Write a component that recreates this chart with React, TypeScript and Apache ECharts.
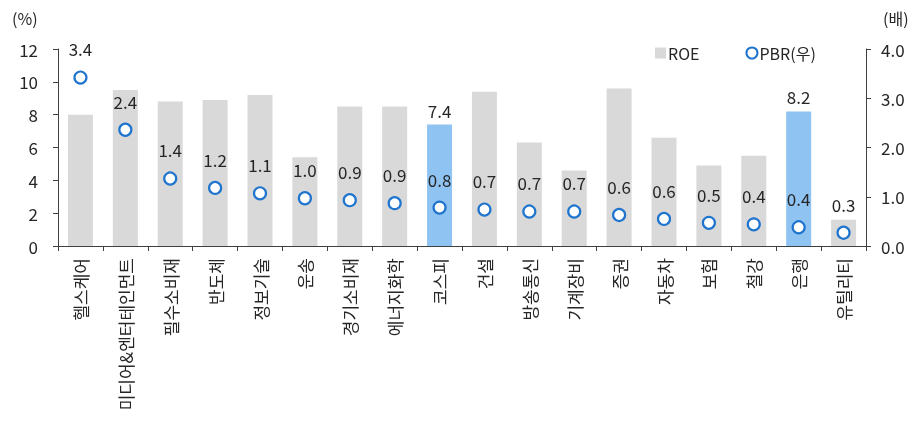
import React, { useEffect, useRef } from "react";
import * as echarts from "echarts";

const categories = [
  "헬스케어", "미디어&엔터테인먼트", "필수소비재", "반도체", "정보기술", "운송",
  "경기소비재", "에너지화학", "코스피", "건설", "방송통신", "기계장비",
  "증권", "자동차", "보험", "철강", "은행", "유틸리티",
];
const roe = [8.0, 9.5, 8.8, 8.9, 9.2, 5.4, 8.5, 8.5, 7.4, 9.4, 6.3, 4.6, 9.6, 6.6, 4.9, 5.5, 8.2, 1.6];
const pbr = [3.42, 2.36, 1.37, 1.18, 1.07, 0.97, 0.93, 0.87, 0.78, 0.74, 0.7, 0.7, 0.63, 0.55, 0.47, 0.44, 0.38, 0.27];
const highlighted = ["코스피", "은행"];

const FONT = "'Noto Sans CJK KR', 'Noto Sans', sans-serif";
const GREY = "#D9D9D9";
const BLUE_BAR = "#8EC3F2";
const BLUE_RING = "#1F74CE";
const TEXT = "#262626";
const AXIS = "#404040";

export default function App() {
  const ref = useRef<HTMLDivElement>(null);

  useEffect(() => {
    if (!ref.current) return;
    const chart = echarts.init(ref.current, null, { renderer: "svg" });

    const barData = roe.map((v, i) => {
      const hi = highlighted.includes(categories[i]);
      return {
        value: v,
        itemStyle: { color: hi ? BLUE_BAR : GREY },
        label: { show: hi },
      };
    });

    chart.setOption({
      animation: false,
      textStyle: { fontFamily: FONT },
      grid: { left: 58, right: 55, top: 49, bottom: 176, containLabel: false },
      legend: {
        top: 40,
        left: 650,
        itemGap: 46,
        itemWidth: 11,
        itemHeight: 11,
        textStyle: { fontSize: 16, color: TEXT, fontFamily: FONT, padding: [0, 0, 0, -3] },
        data: [
          { name: "ROE", icon: "rect", itemStyle: { color: GREY } },
          { name: "PBR(우)", icon: "circle" },
        ],
      },
      graphic: [
        { type: "text", left: 12, top: 10, style: { text: "(%)", font: `16px ${FONT}`, fill: TEXT } },
        { type: "text", left: 883, top: 10, style: { text: "(배)", font: `16px ${FONT}`, fill: TEXT } },
      ],
      xAxis: {
        type: "category",
        data: categories,
        axisLine: { lineStyle: { color: AXIS, width: 1 } },
        axisTick: { show: true, length: 5, lineStyle: { color: AXIS } },
        axisLabel: {
          rotate: 90,
          interval: 0,
          fontSize: 17,
          color: TEXT,
          fontFamily: FONT,
          margin: 12,
        },
      },
      yAxis: [
        {
          type: "value",
          min: 0,
          max: 12,
          interval: 2,
          splitLine: { show: false },
          axisLine: { show: true, lineStyle: { color: AXIS } },
          axisTick: { show: true, length: 5, lineStyle: { color: AXIS } },
          axisLabel: { fontSize: 17, color: TEXT, fontFamily: FONT, margin: 20 },
        },
        {
          type: "value",
          min: 0,
          max: 4,
          interval: 1,
          splitLine: { show: false },
          axisLine: { show: true, lineStyle: { color: AXIS } },
          axisTick: { show: true, length: 5, lineStyle: { color: AXIS } },
          axisLabel: {
            fontSize: 17,
            color: TEXT,
            fontFamily: FONT,
            margin: 15,
            formatter: (v: number) => v.toFixed(1),
          },
        },
      ],
      series: [
        {
          name: "ROE",
          type: "bar",
          yAxisIndex: 0,
          barWidth: 25,
          itemStyle: { color: GREY },
          label: {
            position: "top",
            distance: 6,
            fontSize: 17,
            color: TEXT,
            fontFamily: FONT,
            formatter: (p: any) => Number(p.value).toFixed(1),
          },
          data: barData,
        },
        {
          name: "PBR(우)",
          type: "scatter",
          yAxisIndex: 1,
          symbol: "circle",
          symbolSize: 12,
          z: 5,
          itemStyle: { color: "#FFFFFF", borderColor: BLUE_RING, borderWidth: 2.2, opacity: 1 },
          label: {
            show: true,
            position: "top",
            distance: 13,
            fontSize: 17,
            color: TEXT,
            fontFamily: FONT,
            formatter: (p: any) => Number(p.value).toFixed(1),
          },
          data: pbr,
        },
      ],
    });

    return () => chart.dispose();
  }, []);

  return (
    <div
      ref={ref}
      style={{ position: "fixed", left: 0, top: 0, width: 921, height: 422 }}
    />
  );
}
